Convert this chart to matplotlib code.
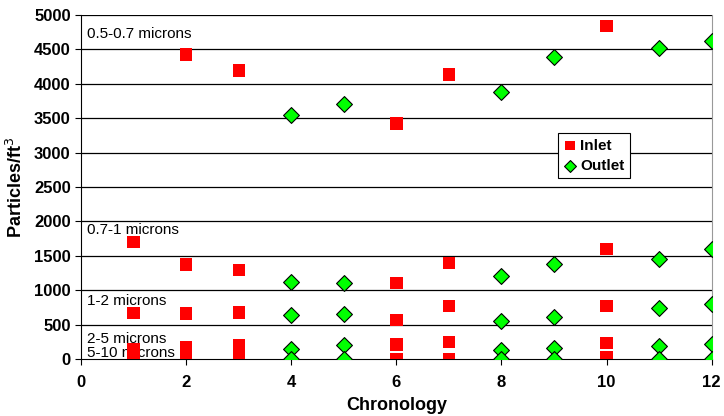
import matplotlib.pyplot as plt

plt.rcParams['font.family'] = ['Liberation Sans', 'DejaVu Sans']

inlet_x = [1, 2, 3, 6, 7, 10]
outlet_x = [4, 5, 8, 9, 11, 12]

# particle counts per size band
inlet = {
    "0.5-0.7": [None, 4420, 4190, 3420, 4130, 4830],
    "0.7-1": [1700, 1375, 1300, 1110, 1395, 1600],
    "1-2": [676, 667, 681, 571, 776, 771],
    "2-5": [145, 175, 200, 215, 250, 240],
    "5-10": [10, 10, 15, 5, 5, 25],
}
outlet = {
    "0.5-0.7": [3550, 3700, 3870, 4380, 4510, 4610],
    "0.7-1": [1120, 1112, 1204, 1383, 1456, 1597],
    "1-2": [643, 657, 562, 619, 752, 800],
    "2-5": [157, 205, 133, 167, 200, 224],
    "5-10": [5, 5, 5, 5, 5, 5],
}

band_labels = ["0.5-0.7 microns", "0.7-1 microns", "1-2 microns", "2-5 microns", "5-10 microns"]
label_y = [4720, 1880, 850, 295, 100]

fig = plt.figure(figsize=(7.24, 4.16), dpi=100)
ax = fig.add_axes([0.112, 0.136, 0.871, 0.829])

for y in range(500, 5001, 500):
    ax.axhline(y, color='black', lw=0.9, zorder=1)

first = True
for band in inlet:
    xs = [x for x, v in zip(inlet_x, inlet[band]) if v is not None]
    vs = [v for v in inlet[band] if v is not None]
    ax.scatter(xs, vs, marker='s', s=80, color='#ff0000', edgecolors='none',
               zorder=3, label='Inlet' if first else None)
    ax.scatter(outlet_x, outlet[band], marker='D', s=65, color='#00ff00',
               edgecolors='black', linewidths=0.8, zorder=3,
               label='Outlet' if first else None)
    first = False

for txt, y in zip(band_labels, label_y):
    ax.text(0.11, y, txt, fontsize=11, va='center', ha='left', zorder=2)

ax.set_xlim(0, 12)
ax.set_ylim(0, 5000)
ax.set_xticks(range(0, 13, 2))
ax.set_yticks(range(0, 5001, 500))
ax.tick_params(labelsize=12, length=4, direction='out')
ax.tick_params(axis='x', pad=7)
for lab in ax.get_xticklabels() + ax.get_yticklabels():
    lab.set_fontweight('bold')
ax.set_xlabel('Chronology', fontsize=13, fontweight='bold', labelpad=5)
ax.set_ylabel('Particles/ft$^3$', fontsize=13, fontweight='bold', labelpad=6)

ax.spines['top'].set_visible(False)
ax.spines['right'].set_color('#999999')

leg = ax.legend(loc='upper left', bbox_to_anchor=(0.756, 0.656),
                prop={'weight': 'bold', 'size': 11}, fancybox=False,
                edgecolor='black', framealpha=1, handletextpad=0.2,
                borderpad=0.35, labelspacing=0.4, handlelength=0.9,
                markerscale=0.75, borderaxespad=0)
leg.get_frame().set_linewidth(0.8)

fig.savefig('out.png', dpi=100)
